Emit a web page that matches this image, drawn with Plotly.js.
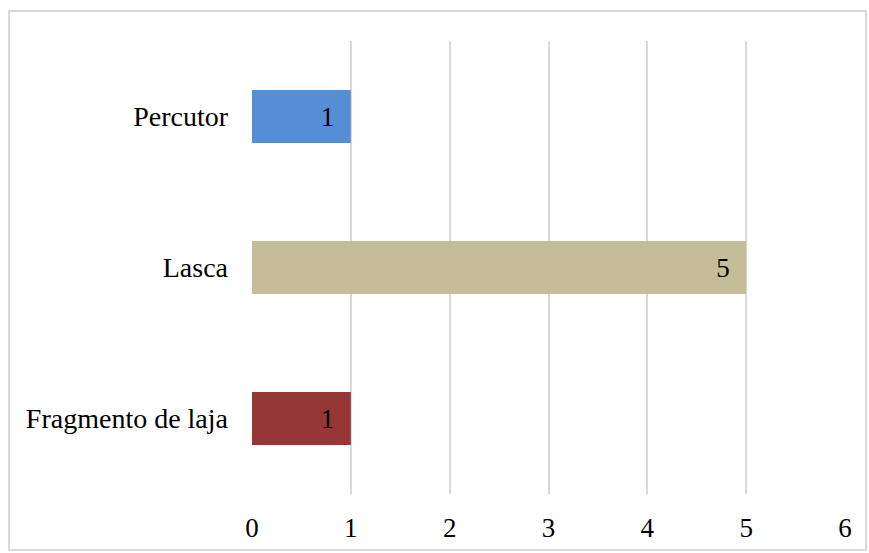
<!DOCTYPE html>
<html><head><meta charset="utf-8">
<script src="https://cdn.plot.ly/plotly-3.0.1.min.js"></script>
<style>html,body{margin:0;padding:0;background:#fff}</style>
</head><body>
<div id="chart" style="width:869px;height:553px"></div>
<script>
const categories = ["Fragmento de laja", "Lasca", "Percutor"];
const values = [1, 5, 1];
const colors = ["#953735", "#C4BD97", "#558ED5"];
const xTicks = [0, 1, 2, 3, 4, 5, 6];

const W = 869, H = 553;
const m = {l: 252, r: 24, t: 41, b: 59};
const pw = W - m.l - m.r, ph = H - m.t - m.b;
const px = v => (v - m.l) / pw;
const py = v => (H - m.b - v) / ph;
const FS = 28;

Plotly.newPlot('chart', [{
  type: 'bar',
  orientation: 'h',
  y: categories,
  x: values,
  marker: {color: colors},
  text: values.map(v => String(v) + '\u00a0\u00a0'),
  textposition: 'inside',
  insidetextanchor: 'end',
  constraintext: 'none',
  textfont: {family: 'Liberation Serif', size: 27, color: '#000'},
  hoverinfo: 'none'
}], {
  width: W, height: H,
  margin: m,
  bargap: 0.65,
  paper_bgcolor: '#fff', plot_bgcolor: '#fff',
  font: {family: 'Liberation Serif', size: FS, color: '#000'},
  showlegend: false,
  xaxis: {
    range: [0, 6], tickvals: xTicks, ticktext: xTicks.map(String),
    showgrid: true, gridcolor: '#d9d9d9', gridwidth: 2,
    zeroline: false, showline: false,
    ticks: '', ticklabelstandoff: 15,
    tickfont: {family: 'Liberation Serif', size: 27, color: '#000'}
  },
  yaxis: {
    type: 'category', showgrid: false, zeroline: false, showline: false,
    ticks: '', ticklabelstandoff: 23,
    tickfont: {family: 'Liberation Serif', size: FS, color: '#000'}
  },
  shapes: [{
    type: 'rect', xref: 'paper', yref: 'paper',
    x0: px(9), x1: px(866), y0: py(550), y1: py(11),
    line: {color: '#d9d9d9', width: 2}, fillcolor: 'rgba(0,0,0,0)'
  }]
}, {staticPlot: true});
</script>
</body></html>
